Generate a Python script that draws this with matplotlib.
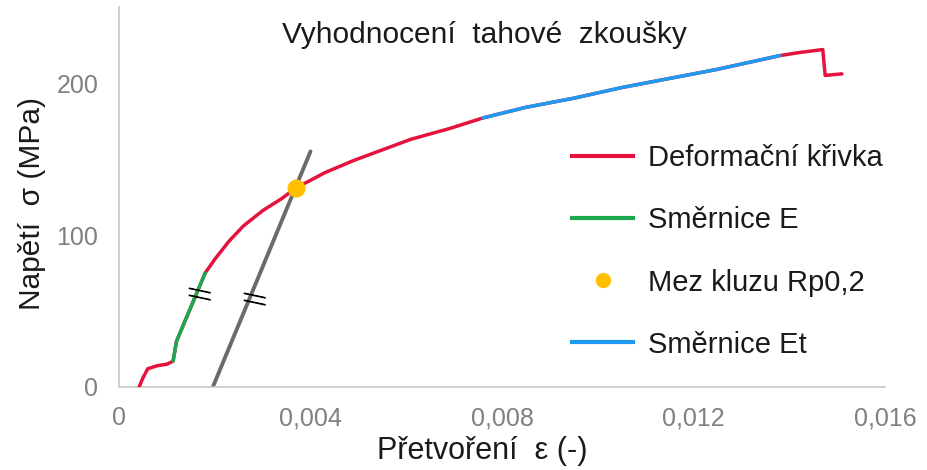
import matplotlib
matplotlib.use("Agg")
import matplotlib.pyplot as plt
from matplotlib.lines import Line2D
from matplotlib.legend_handler import HandlerLine2D
from matplotlib.ticker import FuncFormatter
from matplotlib.transforms import offset_copy

plt.rcParams['font.family'] = ['Liberation Sans', 'DejaVu Sans']

# Deformation curve (strain, stress MPa)
curve_eps = [0.00042, 0.0005, 0.0006, 0.0008, 0.0010, 0.00113, 0.0012, 0.0014, 0.0016, 0.0018,
             0.0020, 0.0023, 0.0026, 0.0030, 0.0034, 0.0037, 0.0043, 0.0049, 0.0055, 0.0061,
             0.0069, 0.0076, 0.0085, 0.0095, 0.0105, 0.0115, 0.0125, 0.0138, 0.0142, 0.0147,
             0.01475, 0.0151]
curve_sig = [0, 6, 12, 14, 15, 17, 30, 45, 60, 75,
             84, 96, 106, 116, 124, 131, 141, 149, 156, 163,
             170, 177, 184, 190, 197, 203, 209, 218, 220, 222,
             205, 206]

# Slope E segment
e_eps = [0.00113, 0.0012, 0.0014, 0.0016, 0.0018]
e_sig = [17, 30, 45, 60, 75]

# Slope Et segment
et_eps = [0.0076, 0.0085, 0.0095, 0.0105, 0.0115, 0.0125, 0.0138]
et_sig = [177, 184, 190, 197, 203, 209, 218]

# Offset (0.2 %) line
off_eps = [0.00196, 0.0040]
off_sig = [0, 155]

# Yield point Rp0,2
rp_eps = [0.0037]
rp_sig = [131]

# Parallel-marks positions (strain, stress)
hash_eps = [0.00168, 0.00282]
hash_sig = [61, 58]

xticks = [0, 0.004, 0.008, 0.012, 0.016]
yticks = [0, 100, 200]

RED = '#E5123D'
GREEN = '#1BA84E'
BLUE = '#1E9BF0'
GOLD = '#FFC000'
GRAY = '#6B6B6B'
TXT = '#1A1A1A'

fig = plt.figure(figsize=(9.28, 4.70), dpi=100)
ax = fig.add_axes([119/928, 1-387/470, (885-119)/928, (387-7)/470])

ax.plot(curve_eps, curve_sig, color=RED, lw=2.5, solid_capstyle='round', zorder=3)
ax.plot(e_eps, e_sig, color=GREEN, lw=2.5, solid_capstyle='round', zorder=4)
ax.plot(et_eps, et_sig, color=BLUE, lw=2.5, solid_capstyle='round', zorder=4)
ax.plot(off_eps, off_sig, color=GRAY, lw=2.8, solid_capstyle='round', zorder=2)
ax.plot(rp_eps, rp_sig, 'o', color=GOLD, ms=12, mec=GOLD, zorder=5)

# parallel marks (double short strokes)
for he, hs in zip(hash_eps, hash_sig):
    for dy in (2.6, -2.6):
        tr = offset_copy(ax.transData, fig=fig, x=0, y=dy, units='points')
        ax.text(he, hs, '\u2014', transform=tr, ha='center', va='center',
                fontsize=18, color='black', rotation=-12, family='DejaVu Sans', zorder=6)

ax.set_xlim(0, 0.016)
ax.set_ylim(0, 250)
ax.set_xticks(xticks)
ax.set_yticks(yticks)
ax.xaxis.set_major_formatter(FuncFormatter(lambda v, p: '0' if v == 0 else f'{v:.3f}'.replace('.', ',')))
ax.tick_params(length=0, labelsize=18, labelcolor='#808080')
ax.tick_params(axis='x', pad=14)
ax.tick_params(axis='y', pad=15)
for s in ('top', 'right'):
    ax.spines[s].set_visible(False)
for s in ('left', 'bottom'):
    ax.spines[s].set_color('#C8C8C8')
    ax.spines[s].set_linewidth(1.2)

ax.set_xlabel('Přetvoření  ε (-)', fontsize=22, color=TXT)
ax.set_ylabel('Napětí  σ (MPa)', fontsize=21.5, color=TXT)
ax.xaxis.set_label_coords((482-119)/766, (387-436)/380)
ax.yaxis.set_label_coords((46-119)/766, (387-203)/380)
fig.text(484/928, 1-35/470, 'Vyhodnocení  tahové  zkoušky', ha='center', va='center',
         fontsize=21.5, color=TXT)


class RightMarkerHandler(HandlerLine2D):
    def create_artists(self, legend, orig_handle, xdescent, ydescent, width, height, fontsize, trans):
        arts = super().create_artists(legend, orig_handle, xdescent, ydescent, width, height, fontsize, trans)
        for a in arts:
            if isinstance(a, Line2D):
                xd = a.get_xdata()
                if len(xd) == 1:
                    a.set_xdata([width * 0.78 - xdescent])
        return arts


handles = [Line2D([], [], color=RED, lw=3),
           Line2D([], [], color=GREEN, lw=3),
           Line2D([], [], color=GOLD, marker='o', ls='none', ms=10),
           Line2D([], [], color=BLUE, lw=3)]
labels = ['Deformační křivka', 'Směrnice E', 'Mez kluzu Rp0,2', 'Směrnice Et']
leg = fig.legend(handles, labels, loc='center left', bbox_to_anchor=(572/928, 1-251.5/470),
                 frameon=False, fontsize=21, handlelength=2.1, handletextpad=0.5,
                 labelspacing=1.17, borderpad=0, borderaxespad=0, numpoints=1,
                 handler_map={handles[2]: RightMarkerHandler()})
for t in leg.get_texts():
    t.set_color(TXT)

fig.savefig('out.png', dpi=100)
